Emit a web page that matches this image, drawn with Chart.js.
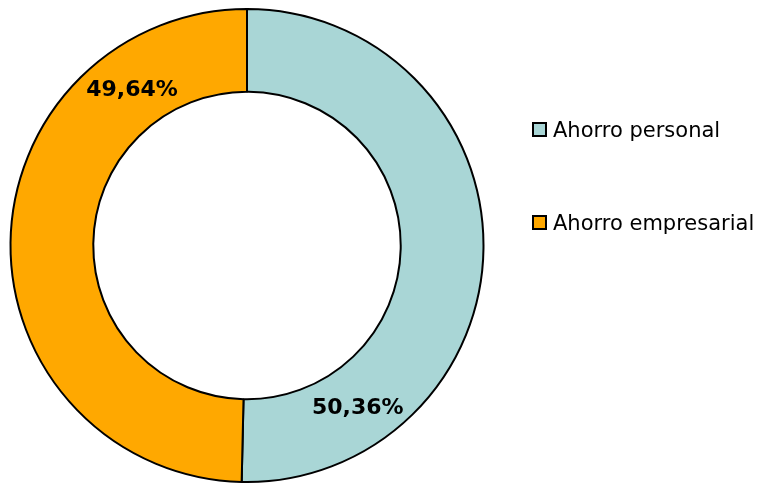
<!DOCTYPE html>
<html>
<head>
<meta charset="utf-8">
<script src="https://cdn.jsdelivr.net/npm/chart.js@4.4.0/dist/chart.umd.min.js"></script>
<style>
  body { margin: 0; background: #fff; }
  #wrap { position: relative; width: 759px; height: 483px; }
  .leg { position: absolute; left: 532px; font-family: "DejaVu Sans", Verdana, sans-serif; font-size: 21px; color: #000; white-space: nowrap; }
  .leg span { display: inline-block; width: 11px; height: 11px; border: 2px solid #000; margin-right: 6px; vertical-align: 0px; }
</style>
</head>
<body>
<div id="wrap">
  <canvas id="myChart" width="759" height="483"></canvas>
  <div id="legend"></div>
</div>
<script>
var categorias = ['Ahorro personal', 'Ahorro empresarial']
var valores = [50.36, 49.64]
var colores = ['#A9D6D6', '#FFA800']
var etiquetas = ['50,36%', '49,64%']
var legendTops = [118, 211]

// etiquetas sobre cada sector (a 80% del arco, como en el original)
const etiquetasPlugin = {
  id: 'etiquetas',
  afterDatasetsDraw(chart) {
    const ctx = chart.ctx
    const meta = chart.getDatasetMeta(0)
    ctx.save()
    ctx.font = 'bold 22px "DejaVu Sans"'
    ctx.fillStyle = '#000'
    ctx.textAlign = 'center'
    ctx.textBaseline = 'middle'
    meta.data.forEach((arc, i) => {
      const p = arc.getProps(['x', 'y', 'startAngle', 'endAngle', 'innerRadius', 'outerRadius'], true)
      const ang = p.startAngle + (p.endAngle - p.startAngle) * 0.8
      const r = (p.innerRadius + p.outerRadius) / 2
      ctx.fillText(etiquetas[i], p.x + Math.cos(ang) * r - 1, p.y + Math.sin(ang) * r + 3)
    })
    ctx.restore()
  }
}

var canvas = document.getElementById('myChart')
var myChart = new Chart(canvas, {
  type: 'doughnut',
  data: {
    labels: categorias,
    datasets: [{
      data: valores,
      backgroundColor: colores,
      borderColor: '#000',
      borderWidth: 2
    }]
  },
  options: {
    responsive: false,
    animation: false,
    cutout: '65%',
    layout: { padding: { top: 8, bottom: 0, left: 7, right: 272 } },
    plugins: {
      legend: { display: false },
      tooltip: { enabled: false }
    }
  },
  plugins: [etiquetasPlugin]
})

const legend = document.getElementById('legend')
legend.innerHTML = categorias.map((c, i) =>
  `<div class="leg" style="top:${legendTops[i]}px"><span style="background:${colores[i]}"></span>${c}</div>`
).join('')
</script>
</body>
</html>
